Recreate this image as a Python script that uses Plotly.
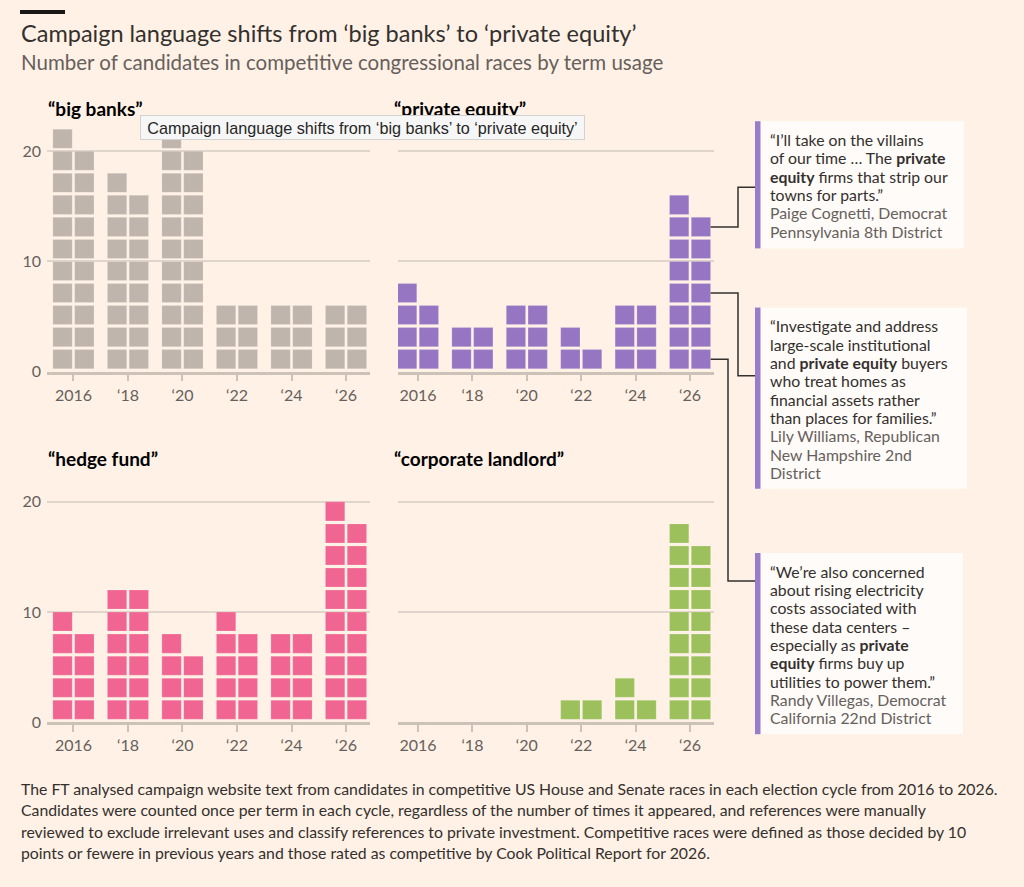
import math
import plotly.graph_objects as go

# election cycles and candidate counts per term
years = [2016, 2018, 2020, 2022, 2024, 2026]
year_labels = ["2016", "\u201818", "\u201820", "\u201822", "\u201824", "\u201826"]

big_banks = [21, 17, 21, 6, 6, 6]
private_equity = [7, 4, 6, 3, 6, 15]
hedge_fund = [9, 12, 7, 9, 8, 19]
corporate_landlord = [0, 0, 0, 2, 3, 17]

W, H = 1024, 887
BG = "#fff1e5"
DARK = "#33302e"
GREY = "#66605c"
# the capture squeezes the page a little vertically, so stretch y positions to land where wanted
K = 1.012


def px_x(p):
    return p / W


def px_y(p):
    return 1 - p * K / H


# panel name, values, colour, x-domain px, y-domain px (top, bottom), x-range, show y labels
panels = [
    ("\u201cbig banks\u201d", big_banks, "#c0b5ac", (47, 370), (123.5, 371), (2015.03, 2026.88), True),
    ("\u201cprivate equity\u201d", private_equity, "#9676c3", (398, 714), (123.5, 371), (2015.265, 2026.88), False),
    ("\u201chedge fund\u201d", hedge_fund, "#f06591", (47, 370), (473.5, 721), (2015.03, 2026.88), True),
    ("\u201ccorporate landlord\u201d", corporate_landlord, "#9cc05b", (398, 714), (473.5, 721), (2015.265, 2026.88), False),
]
YMAX = 22.5
GAP = 0.27
COL_OFF = 0.4
SQ_W = 0.71

fig = go.Figure()
layout = {}
annotations = []
shapes = []

for i, (name, vals, color, xd, yd, xr, ylab) in enumerate(panels):
    n = "" if i == 0 else str(i + 1)
    xs, bases, hs = [], [], []
    for yr, v in zip(years, vals):
        left = math.ceil(v / 2)
        right = v // 2
        for col, cnt in ((-COL_OFF, left), (COL_OFF, right)):
            for r in range(cnt):
                xs.append(yr + col)
                bases.append(2 * r + GAP)
                hs.append(2 - GAP)
    fig.add_trace(go.Bar(
        x=xs, y=hs, base=bases, width=SQ_W,
        marker=dict(color=color, line=dict(color="rgba(255,255,255,0.18)", width=1)),
        xaxis="x" + n, yaxis="y" + n, hoverinfo="skip", showlegend=False,
    ))
    layout["xaxis" + n] = dict(
        domain=[px_x(xd[0]), px_x(xd[1])], range=list(xr), anchor="y" + n,
        tickvals=years, ticktext=year_labels, showgrid=False, zeroline=False,
        showline=True, linecolor="#cdc2b8", linewidth=2.5,
        ticks="outside", ticklen=7, tickwidth=1.5, tickcolor="#cdc2b8",
        tickfont=dict(size=16, color=GREY), ticklabelstandoff=0, fixedrange=True,
    )
    layout["yaxis" + n] = dict(
        domain=[px_y(yd[1]), px_y(yd[0])], range=[0, YMAX], anchor="x" + n,
        tickvals=[0, 10, 20], showticklabels=ylab, showgrid=True,
        gridcolor="#e0d5ca", gridwidth=1.5, zeroline=False, ticks="",
        tickfont=dict(size=16, color=GREY), ticklabelstandoff=5, fixedrange=True,
    )
    title_x = 46 if xd[0] < 200 else 392
    annotations.append(dict(
        text="<b>" + name + "</b>", xref="paper", yref="paper",
        x=px_x(title_x), y=px_y(yd[0] - 15.5), xanchor="left", yanchor="middle",
        showarrow=False, font=dict(size=19, color="#000000"),
    ))

# headline block
shapes.append(dict(type="rect", xref="paper", yref="paper",
                   x0=px_x(20), x1=px_x(65), y0=px_y(14), y1=px_y(10),
                   fillcolor="#1a1817", line=dict(width=0)))
annotations.append(dict(
    text="Campaign language shifts from \u2018big banks\u2019 to \u2018private equity\u2019",
    xref="paper", yref="paper", x=px_x(19), y=px_y(33), xanchor="left", yanchor="middle",
    showarrow=False, font=dict(size=23.5, color=DARK),
))
annotations.append(dict(
    text="Number of candidates in competitive congressional races by term usage",
    xref="paper", yref="paper", x=px_x(19), y=px_y(62), xanchor="left", yanchor="middle",
    showarrow=False, font=dict(size=20.5, color=GREY),
))

# quote boxes: quote lines, speaker lines, box (top, bottom, right), row hit, elbow x, box entry y
quotes = [
    (["\u201cI\u2019ll take on the villains",
      "of our time \u2026 The <b>private</b>",
      "<b>equity</b> firms that strip our",
      "towns for parts.\u201d"],
     ["Paige Cognetti, Democrat", "Pennsylvania 8th District"],
     (121, 248, 964), 6, 738, 187),
    (["\u201cInvestigate and address",
      "large-scale institutional",
      "and <b>private equity</b> buyers",
      "who treat homes as",
      "financial assets rather",
      "than places for families.\u201d"],
     ["Lily Williams, Republican", "New Hampshire 2nd", "District"],
     (307, 488, 967), 3, 738, 375),
    (["\u201cWe\u2019re also concerned",
      "about rising electricity",
      "costs associated with",
      "these data centers \u2013",
      "especially as <b>private</b>",
      "<b>equity</b> firms buy up",
      "utilities to power them.\u201d"],
     ["Randy Villegas, Democrat", "California 22nd District"],
     (552, 733, 963), 0, 728, 580),
]

pe_xd, pe_yd, pe_xr = panels[1][3], panels[1][4], panels[1][5]


def data_to_px_x(v):
    return pe_xd[0] + (v - pe_xr[0]) / (pe_xr[1] - pe_xr[0]) * (pe_xd[1] - pe_xd[0])


def data_to_px_y(v):
    return pe_yd[1] - v / YMAX * (pe_yd[1] - pe_yd[0])


BOX_L = 755
LINE_H = 18.3
for body, who, (top, bot, right), row, elbow_x, end_y in quotes:
    shapes.append(dict(type="rect", xref="paper", yref="paper",
                       x0=px_x(BOX_L), x1=px_x(right), y0=px_y(bot), y1=px_y(top),
                       fillcolor="#fffbf8", line=dict(width=0), layer="below"))
    shapes.append(dict(type="rect", xref="paper", yref="paper",
                       x0=px_x(BOX_L), x1=px_x(BOX_L + 5.5), y0=px_y(bot), y1=px_y(top),
                       fillcolor="#9a7dc8", line=dict(width=0)))
    lines = [(t, DARK) for t in body] + [(t, GREY) for t in who]
    for k, (t, c) in enumerate(lines):
        annotations.append(dict(
            text=t, xref="paper", yref="paper", x=px_x(768),
            y=px_y(top + 18.3 + k * LINE_H), xanchor="left", yanchor="middle",
            showarrow=False, font=dict(size=15.8, color=c),
        ))
    sx = data_to_px_x(years[-1] + COL_OFF + SQ_W / 2)
    sy = data_to_px_y(2 * row + GAP + (2 - GAP) / 2)
    path = "M{},{} L{},{} L{},{} L{},{}".format(
        px_x(sx), px_y(sy), px_x(elbow_x), px_y(sy),
        px_x(elbow_x), px_y(end_y), px_x(BOX_L), px_y(end_y))
    shapes.append(dict(type="path", xref="paper", yref="paper", path=path,
                       line=dict(color=DARK, width=1.5)))

# footnote
notes = [
    "The FT analysed campaign website text from candidates in competitive US House and Senate races in each election cycle from 2016 to 2026.",
    "Candidates were counted once per term in each cycle, regardless of the number of times it appeared, and references were manually",
    "reviewed to exclude irrelevant uses and classify references to private investment. Competitive races were defined as those decided by 10",
    "points or fewere in previous years and those rated as competitive by Cook Political Report for 2026.",
]
for k, t in enumerate(notes):
    annotations.append(dict(
        text=t, xref="paper", yref="paper", x=px_x(19), y=px_y(787 + k * 21.3),
        xanchor="left", yanchor="middle", showarrow=False,
        font=dict(size=15.8, color=DARK),
    ))

# browser tooltip captured in the screenshot
annotations.append(dict(
    text="Campaign language shifts from \u2018big banks\u2019 to \u2018private equity\u2019",
    xref="paper", yref="paper", x=px_x(140), y=px_y(127.5), xanchor="left", yanchor="middle",
    width=441, height=21, align="center", valign="middle",
    showarrow=False, font=dict(size=16.2, color="#262626", family="Liberation Sans"),
    bgcolor="#f6f6f6", bordercolor="#d2d2d2", borderwidth=1, borderpad=1,
))

fig.update_layout(
    width=W, height=H, margin=dict(l=0, r=0, t=0, b=0),
    paper_bgcolor=BG, plot_bgcolor="rgba(0,0,0,0)",
    font=dict(family="Lato, 'Noto Sans', sans-serif", color=DARK),
    barmode="overlay", annotations=annotations, shapes=shapes,
    **layout,
)

page_css = (
    "document.documentElement.style.margin='0';"
    "document.documentElement.style.overflow='hidden';"
    "document.body.style.margin='0';"
    "document.body.style.overflow='hidden';"
    "document.body.style.height='887px';"
)
fig.write_html("out.html", config={"displayModeBar": False}, post_script=page_css)
